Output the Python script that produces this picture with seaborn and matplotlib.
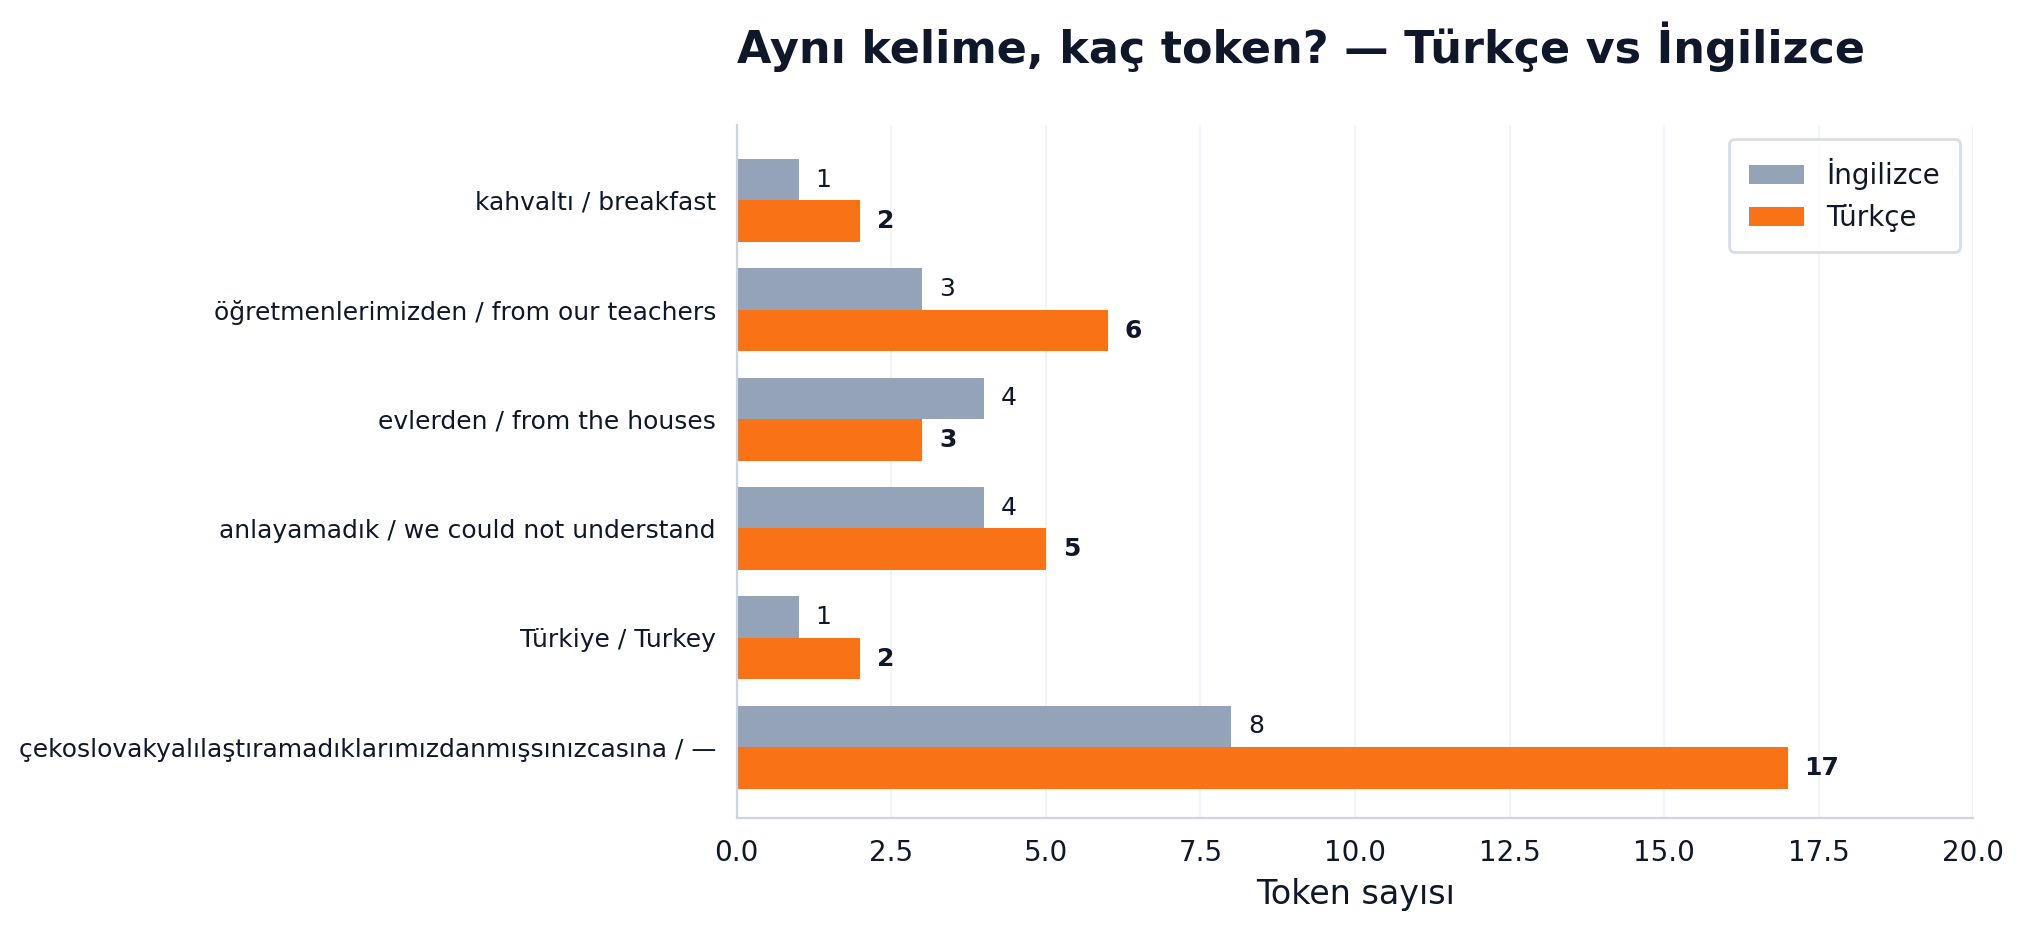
import matplotlib
matplotlib.use("Agg")
import matplotlib.pyplot as plt
import seaborn as sns
import pandas as pd

categories = ["kahvaltı / breakfast", "öğretmenlerimizden / from our teachers",
              "evlerden / from the houses", "anlayamadık / we could not understand",
              "Türkiye / Turkey", "çekoslovakyalılaştıramadıklarımızdanmışsınızcasına / —"]
english = [1, 3, 4, 4, 1, 8]
turkish = [2, 6, 3, 5, 2, 17]

df = pd.DataFrame({
    "cat": categories * 2,
    "val": english + turkish,
    "lang": ["İngilizce"] * len(categories) + ["Türkçe"] * len(categories),
})

sns.set_style("white")
plt.rcParams['font.family'] = ['DejaVu Sans']
fig = plt.figure(figsize=(10.12, 4.66), dpi=200)
ax = fig.add_axes([0.364, 0.122, 0.611, 0.744])
sns.barplot(data=df, y="cat", x="val", hue="lang", orient="h", ax=ax,
            palette={"İngilizce": "#94a3b8", "Türkçe": "#f97316"},
            width=0.76, saturation=1, linewidth=0, edgecolor="none")
ax.bar_label(ax.containers[0], padding=6, fontsize=9, color="#0f172a")
ax.bar_label(ax.containers[1], padding=6, fontsize=9, color="#0f172a", fontweight="bold")
ax.set_xlim(0, 20)
ax.set_ylim(5.65, -0.69)
ax.set_xlabel("Token sayısı", fontsize=12, color="#0f172a")
ax.set_ylabel("")
ax.tick_params(axis="y", labelsize=9, colors="#0f172a", length=4, color="#cbd5e1")
ax.tick_params(axis="x", labelsize=10, colors="#0f172a", length=4, color="#cbd5e1")
ax.grid(axis="x", color="#f1f5f9", linewidth=0.8)
ax.set_axisbelow(True)
for s in ["top", "right"]:
    ax.spines[s].set_visible(False)
for s in ["left", "bottom"]:
    ax.spines[s].set_color("#cbd5e1")
leg = ax.legend(loc="upper right", fontsize=10, frameon=True, edgecolor="#cbd5e1",
                borderpad=0.7)
for t in leg.get_texts():
    t.set_color("#0f172a")
fig.text(0.364, 0.95, "Aynı kelime, kaç token? — Türkçe vs İngilizce", fontsize=16,
         fontweight="bold", color="#0f172a", ha="left", va="center")
fig.savefig("out.png", dpi=200)
